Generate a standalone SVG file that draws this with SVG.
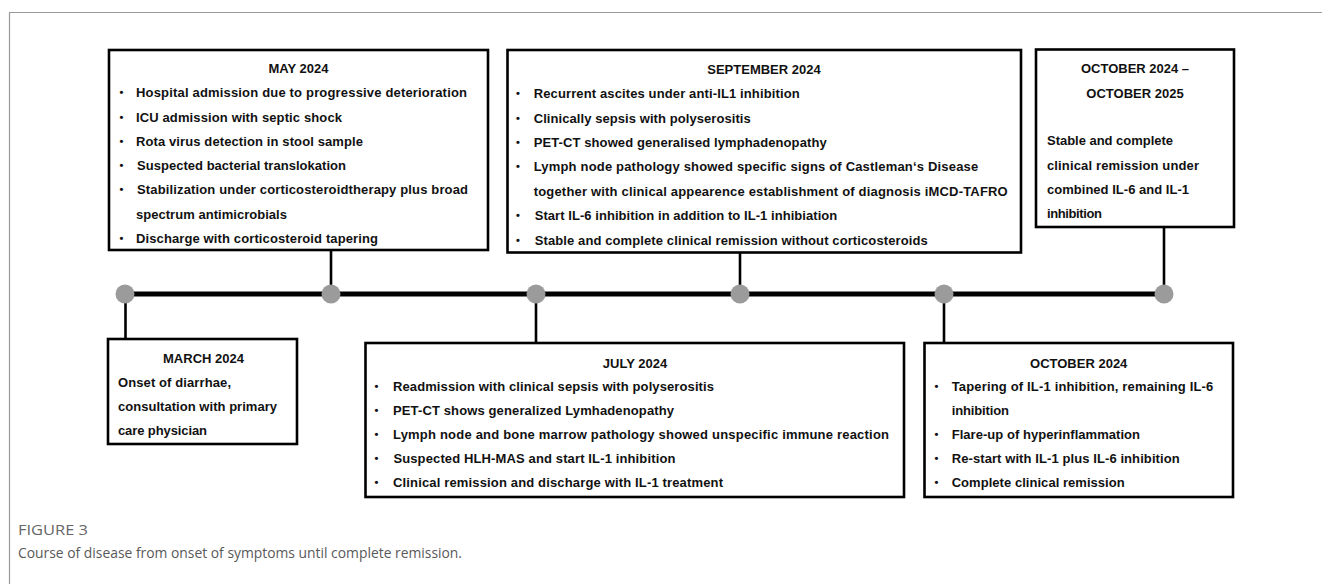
<svg xmlns="http://www.w3.org/2000/svg" width="1322" height="584" viewBox="0 0 1322 584">
<style>
.bg{fill:#fff}
.frame{fill:none;stroke:#9a9a9a;stroke-width:1.2}
.box{fill:#fff;stroke:#000;stroke-width:2.6}
.t{font-family:"Liberation Sans",Arial,sans-serif;font-size:13px;font-weight:bold;fill:#111}
.b{font-family:"Liberation Sans",Arial,sans-serif;font-size:11px;font-weight:bold;fill:#111}
.c{text-anchor:middle}
.conn{stroke:#000;stroke-width:2.6;fill:none}
.axis{stroke:#000;stroke-width:5;fill:none}
.dot{fill:#9b9b9b}
.fig{font-family:"Open Sans","Noto Sans",sans-serif;font-size:14px;fill:#666}
.cap{font-family:"Open Sans","Noto Sans",sans-serif;font-size:14px;fill:#595959}
</style>
<rect class="bg" x="0" y="0" width="1322" height="584"/>
<path class="frame" d="M9.5 584 V12.5 H1322"/>

<g id="connectors">
<line class="axis" x1="125" y1="294" x2="1164" y2="294"/>
<line class="conn" x1="331" y1="250" x2="331" y2="294"/>
<line class="conn" x1="125.5" y1="294" x2="125.5" y2="339"/>
<line class="conn" x1="536" y1="294" x2="536" y2="343"/>
<line class="conn" x1="740" y1="252" x2="740" y2="294"/>
<line class="conn" x1="944" y1="294" x2="944" y2="343"/>
<line class="conn" x1="1164" y1="227" x2="1164" y2="294"/>
<circle class="dot" cx="125" cy="294" r="9.5"/>
<circle class="dot" cx="331" cy="294" r="9.5"/>
<circle class="dot" cx="536" cy="294" r="9.5"/>
<circle class="dot" cx="740" cy="294" r="9.5"/>
<circle class="dot" cx="944" cy="294" r="9.5"/>
<circle class="dot" cx="1164" cy="294" r="9.5"/>
</g>

<g id="may2024">
<rect class="box" x="109" y="50" width="379" height="200"/>
<text class="t c" x="298.5" y="72.5">MAY 2024</text>
<text class="b" x="119.5" y="96">•</text>
<text class="t" x="136" y="97" textLength="331" lengthAdjust="spacing">Hospital admission due to progressive deterioration</text>
<text class="b" x="119.5" y="120.5">•</text>
<text class="t" x="136" y="121.5" textLength="206" lengthAdjust="spacing">ICU admission with septic shock</text>
<text class="b" x="119.5" y="144.5">•</text>
<text class="t" x="136" y="145.5" textLength="227" lengthAdjust="spacing">Rota virus detection in stool sample</text>
<text class="b" x="119.5" y="169">•</text>
<text class="t" x="137" y="170" textLength="209" lengthAdjust="spacing">Suspected bacterial translokation</text>
<text class="b" x="119.5" y="193">•</text>
<text class="t" x="137" y="194" textLength="331" lengthAdjust="spacing">Stabilization under corticosteroidtherapy plus broad</text>
<text class="t" x="136" y="218.5" textLength="151" lengthAdjust="spacing">spectrum antimicrobials</text>
<text class="b" x="119.5" y="242">•</text>
<text class="t" x="136" y="243" textLength="242" lengthAdjust="spacing">Discharge with corticosteroid tapering</text>
</g>

<g id="september2024">
<rect class="box" x="507.5" y="50" width="513.5" height="202.5"/>
<text class="t c" x="764" y="74">SEPTEMBER 2024</text>
<text class="b" x="516" y="97">•</text>
<text class="t" x="533.7" y="98" textLength="266" lengthAdjust="spacing">Recurrent ascites under anti-IL1 inhibition</text>
<text class="b" x="516" y="121.5">•</text>
<text class="t" x="533.7" y="122.5" textLength="217" lengthAdjust="spacing">Clinically sepsis with polyserositis</text>
<text class="b" x="516" y="145.5">•</text>
<text class="t" x="533.7" y="146.5" textLength="293" lengthAdjust="spacing">PET-CT showed generalised lymphadenopathy</text>
<text class="b" x="516" y="170">•</text>
<text class="t" x="533.7" y="171" textLength="444.5" lengthAdjust="spacing">Lymph node pathology showed specific signs of Castleman‘s Disease</text>
<text class="t" x="533.7" y="195.5" textLength="474" lengthAdjust="spacing">together with clinical appearence establishment of diagnosis iMCD-TAFRO</text>
<text class="b" x="516" y="219">•</text>
<text class="t" x="534.7" y="220" textLength="302.6" lengthAdjust="spacing">Start IL-6 inhibition in addition to IL-1 inhibiation</text>
<text class="b" x="516" y="244">•</text>
<text class="t" x="534.7" y="245" textLength="393" lengthAdjust="spacing">Stable and complete clinical remission without corticosteroids</text>
</g>

<g id="october2024-2025">
<rect class="box" x="1036" y="49.5" width="198" height="177.5"/>
<text class="t c" x="1135" y="72.5">OCTOBER 2024 –</text>
<text class="t c" x="1135" y="97.5">OCTOBER 2025</text>
<text class="t" x="1047" y="145" textLength="126" lengthAdjust="spacing">Stable and complete</text>
<text class="t" x="1047" y="170" textLength="152" lengthAdjust="spacing">clinical remission under</text>
<text class="t" x="1047" y="194" textLength="142" lengthAdjust="spacing">combined IL-6 and IL-1</text>
<text class="t" x="1047" y="218" textLength="55" lengthAdjust="spacing">inhibition</text>
</g>

<g id="march2024">
<rect class="box" x="108" y="339" width="189" height="105"/>
<text class="t c" x="203.5" y="362.5">MARCH 2024</text>
<text class="t" x="118" y="387" textLength="113" lengthAdjust="spacing">Onset of diarrhae,</text>
<text class="t" x="118" y="411" textLength="159" lengthAdjust="spacing">consultation with primary</text>
<text class="t" x="118" y="435" textLength="89" lengthAdjust="spacing">care physician</text>
</g>

<g id="july2024">
<rect class="box" x="365.5" y="343" width="538.5" height="154"/>
<text class="t c" x="635" y="367.5">JULY 2024</text>
<text class="b" x="374.5" y="390">•</text>
<text class="t" x="393" y="391" textLength="321" lengthAdjust="spacing">Readmission with clinical sepsis with polyserositis</text>
<text class="b" x="374.5" y="414">•</text>
<text class="t" x="393" y="415" textLength="281" lengthAdjust="spacing">PET-CT shows generalized Lymhadenopathy</text>
<text class="b" x="374.5" y="438">•</text>
<text class="t" x="393" y="439" textLength="496" lengthAdjust="spacing">Lymph node and bone marrow pathology showed unspecific immune reaction</text>
<text class="b" x="374.5" y="462">•</text>
<text class="t" x="393.4" y="463" textLength="282" lengthAdjust="spacing">Suspected HLH-MAS and start IL-1 inhibition</text>
<text class="b" x="374.5" y="486">•</text>
<text class="t" x="393" y="487" textLength="330" lengthAdjust="spacing">Clinical remission and discharge with IL-1 treatment</text>
</g>

<g id="october2024">
<rect class="box" x="924.5" y="343" width="308.5" height="154"/>
<text class="t c" x="1078.7" y="367.5">OCTOBER 2024</text>
<text class="b" x="934.5" y="390">•</text>
<text class="t" x="951.7" y="391" textLength="261.6" lengthAdjust="spacing">Tapering of IL-1 inhibition, remaining IL-6</text>
<text class="t" x="951.7" y="415" textLength="57.3" lengthAdjust="spacing">inhibition</text>
<text class="b" x="934.5" y="438">•</text>
<text class="t" x="951.7" y="439" textLength="188.3" lengthAdjust="spacing">Flare-up of hyperinflammation</text>
<text class="b" x="934.5" y="462">•</text>
<text class="t" x="951.7" y="463" textLength="228" lengthAdjust="spacing">Re-start with IL-1 plus IL-6 inhibition</text>
<text class="b" x="934.5" y="486">•</text>
<text class="t" x="951.7" y="487" textLength="173" lengthAdjust="spacing">Complete clinical remission</text>
</g>

<g id="caption">
<text class="fig" x="18" y="535" textLength="70" lengthAdjust="spacingAndGlyphs">FIGURE 3</text>
<text class="cap" x="18" y="558" textLength="444" lengthAdjust="spacingAndGlyphs">Course of disease from onset of symptoms until complete remission.</text>
</g>
</svg>
